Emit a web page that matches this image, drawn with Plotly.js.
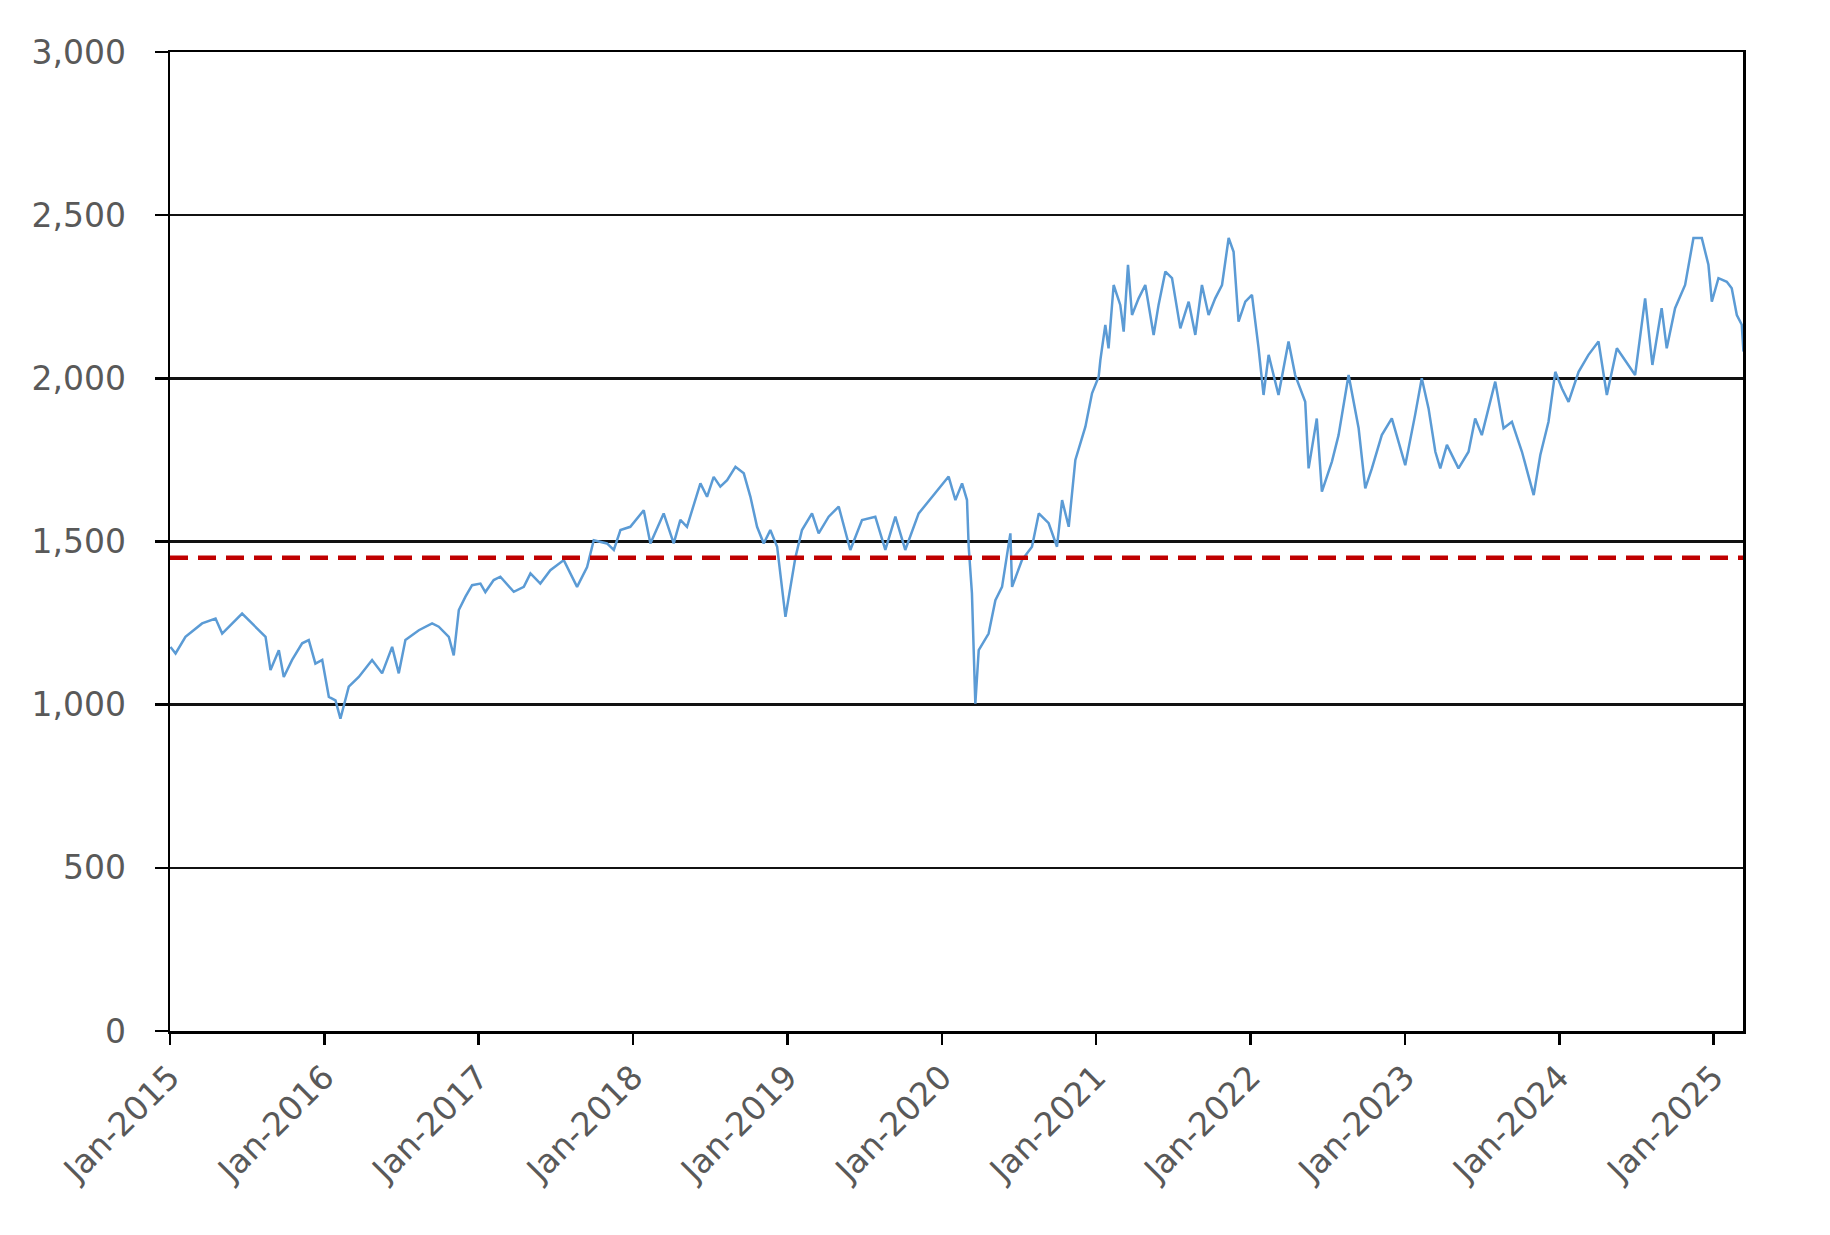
<!DOCTYPE html>
<html>
<head>
<meta charset="utf-8">
<script src="https://cdn.plot.ly/plotly-3.0.1.min.js"></script>
<style>
  html, body { margin: 0; padding: 0; background: #fff; }
  #chart { width: 1830px; height: 1235px; }
</style>
</head>
<body>
<div id="chart"></div>
<script>
// index level, x in decimal years (2015.0 = Jan-2015)
const years = [
  2015.003, 2015.036, 2015.100, 2015.208, 2015.295, 2015.338, 2015.467, 2015.532, 2015.619, 2015.651,
  2015.705, 2015.737, 2015.791, 2015.856, 2015.899, 2015.942, 2015.986, 2016.029, 2016.072, 2016.104,
  2016.158, 2016.223, 2016.309, 2016.374, 2016.439, 2016.482, 2016.525, 2016.612, 2016.698, 2016.741,
  2016.806, 2016.838, 2016.871, 2016.914, 2016.957, 2017.011, 2017.043, 2017.097, 2017.140, 2017.227,
  2017.292, 2017.335, 2017.399, 2017.464, 2017.551, 2017.637, 2017.702, 2017.745, 2017.831, 2017.875,
  2017.918, 2017.982, 2018.069, 2018.112, 2018.198, 2018.263, 2018.306, 2018.349, 2018.436, 2018.479,
  2018.522, 2018.565, 2018.609, 2018.663, 2018.717, 2018.760, 2018.803, 2018.846, 2018.889, 2018.933,
  2018.987, 2019.051, 2019.094, 2019.159, 2019.202, 2019.267, 2019.332, 2019.407, 2019.483, 2019.569,
  2019.634, 2019.699, 2019.763, 2019.850, 2019.958, 2020.044, 2020.088, 2020.131, 2020.163, 2020.174,
  2020.195, 2020.217, 2020.239, 2020.303, 2020.347, 2020.390, 2020.444, 2020.455, 2020.519, 2020.584,
  2020.628, 2020.692, 2020.746, 2020.779, 2020.822, 2020.865, 2020.930, 2020.973, 2021.016, 2021.027,
  2021.059, 2021.080, 2021.113, 2021.156, 2021.178, 2021.206, 2021.232, 2021.275, 2021.318, 2021.372,
  2021.404, 2021.448, 2021.491, 2021.545, 2021.599, 2021.642, 2021.685, 2021.728, 2021.771, 2021.815,
  2021.858, 2021.890, 2021.922, 2021.966, 2022.009, 2022.052, 2022.084, 2022.117, 2022.181, 2022.246,
  2022.289, 2022.354, 2022.376, 2022.429, 2022.462, 2022.527, 2022.570, 2022.635, 2022.700, 2022.743,
  2022.786, 2022.850, 2022.915, 2023.002, 2023.066, 2023.109, 2023.153, 2023.197, 2023.229, 2023.272,
  2023.347, 2023.412, 2023.455, 2023.498, 2023.585, 2023.639, 2023.693, 2023.758, 2023.834, 2023.877,
  2023.930, 2023.974, 2024.017, 2024.060, 2024.125, 2024.189, 2024.254, 2024.308, 2024.373, 2024.448,
  2024.491, 2024.556, 2024.603, 2024.663, 2024.696, 2024.750, 2024.815, 2024.869, 2024.923, 2024.966,
  2024.988, 2025.031, 2025.085, 2025.117, 2025.150, 2025.182, 2025.193
];

const indexValues = [
  1177, 1157, 1208, 1249, 1264, 1218, 1279, 1249, 1208, 1106,
  1167, 1085, 1137, 1188, 1198, 1126, 1137, 1024, 1013, 957,
  1055, 1085, 1137, 1096, 1177, 1096, 1198, 1228, 1249, 1239,
  1208, 1151, 1290, 1331, 1366, 1371, 1345, 1382, 1392, 1346,
  1361, 1402, 1371, 1412, 1443, 1361, 1422, 1504, 1494, 1474,
  1535, 1545, 1596, 1494, 1586, 1494, 1566, 1545, 1678, 1637,
  1698, 1668, 1688, 1729, 1709, 1637, 1545, 1494, 1535, 1484,
  1269, 1450, 1535, 1586, 1525, 1576, 1607, 1474, 1566, 1576,
  1474, 1576, 1474, 1586, 1648, 1699, 1627, 1678, 1627, 1484,
  1341, 1003, 1167, 1218, 1320, 1361, 1525, 1361, 1443, 1484,
  1586, 1556, 1484, 1627, 1545, 1750, 1852, 1954, 2005, 2056,
  2164, 2092, 2286, 2225, 2143, 2348, 2194, 2245, 2286, 2133,
  2225, 2327, 2307, 2153, 2235, 2133, 2286, 2194, 2245, 2286,
  2430, 2388, 2174, 2235, 2256, 2092, 1949, 2072, 1949, 2113,
  2010, 1928, 1724, 1877, 1653, 1745, 1826, 2010, 1847, 1663,
  1724, 1826, 1877, 1734, 1888, 2000, 1908, 1775, 1724, 1796,
  1724, 1775, 1877, 1826, 1990, 1847, 1867, 1775, 1642, 1765,
  1867, 2020, 1969, 1928, 2020, 2072, 2113, 1949, 2092, 2041,
  2010, 2245, 2041, 2215, 2092, 2215, 2286, 2430, 2430, 2348,
  2235, 2307, 2296, 2276, 2194, 2164, 2082
];

const thresholdYears = [2015.0, 2025.19];
const thresholdLevel = [1450, 1450];

const tickYears = [2015, 2016, 2017, 2018, 2019, 2020, 2021, 2022, 2023, 2024, 2025];
const tickLabels = ['Jan-2015', 'Jan-2016', 'Jan-2017', 'Jan-2018', 'Jan-2019', 'Jan-2020',
                    'Jan-2021', 'Jan-2022', 'Jan-2023', 'Jan-2024', 'Jan-2025'];

const FONT = '"DejaVu Sans", Verdana, sans-serif';
const LABEL_GREY = '#595959';

const traces = [
  {
    x: years, y: indexValues, type: 'scatter', mode: 'lines',
    line: { color: '#5B9BD5', width: 2.5 },
    hoverinfo: 'skip'
  },
  {
    x: thresholdYears, y: thresholdLevel, type: 'scatter', mode: 'lines',
    line: { color: '#C00000', width: 4.5, dash: '18px,10px' },
    hoverinfo: 'skip'
  }
];

const layout = {
  width: 1830,
  height: 1235,
  margin: { l: 170, r: 87, t: 52, b: 204 },
  paper_bgcolor: '#fff',
  plot_bgcolor: '#fff',
  showlegend: false,
  font: { family: FONT, size: 34, color: LABEL_GREY },
  xaxis: {
    range: [2015, 2025.19],
    tickvals: tickYears,
    ticktext: tickLabels,
    tickangle: -45,
    ticks: 'outside', ticklen: 11, tickwidth: 2.5, tickcolor: '#000',
    showline: true, linecolor: '#000', linewidth: 2.5, mirror: true,
    showgrid: false, zeroline: false,
    tickfont: { family: FONT, size: 33, color: LABEL_GREY }
  },
  yaxis: {
    range: [0, 3000],
    dtick: 500,
    tickformat: ',',
    ticks: 'outside', ticklen: 13, tickwidth: 2.5, tickcolor: '#000',
    ticklabelstandoff: 22,
    showline: true, linecolor: '#000', linewidth: 2.5, mirror: true,
    showgrid: true, gridcolor: '#111', gridwidth: 2.5,
    zeroline: false,
    tickfont: { family: FONT, size: 33, color: LABEL_GREY }
  }
};

Plotly.newPlot('chart', traces, layout, { displayModeBar: false, staticPlot: true });
</script>
</body>
</html>
